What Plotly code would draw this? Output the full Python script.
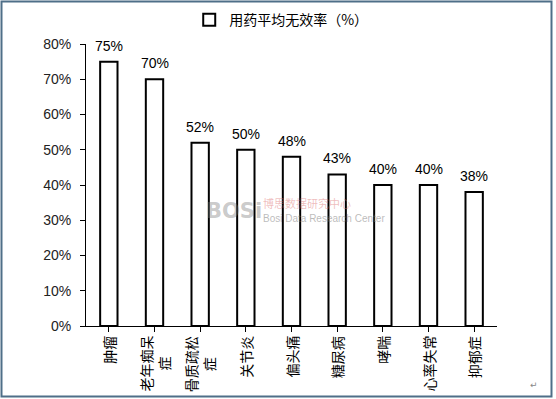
import plotly.graph_objects as go

categories = ["肿瘤", "老年痴呆<br>症", "骨质疏松<br>症", "关节炎", "偏头痛", "糖尿病", "哮喘", "心率失常", "抑郁症"]
values = [75, 70, 52, 50, 48, 43, 40, 40, 38]
series_name = "用药平均无效率（%）"
y_ticks = [0, 0.1, 0.2, 0.3, 0.4, 0.5, 0.6, 0.7, 0.8]

CJK = "Noto Sans CJK SC"
ARIAL = "Liberation Sans, Arial"

xs = list(range(len(categories)))
ys = [v / 100 for v in values]

fig = go.Figure()
fig.add_trace(go.Bar(
    x=xs, y=ys,
    name=series_name,
    marker=dict(color="white", line=dict(color="black", width=2)),
    cliponaxis=False,
    showlegend=True,
))

annotations = []
# value labels above bars
for x, y, v in zip(xs, ys, values):
    annotations.append(dict(
        x=x, y=y, xref="x", yref="y", yanchor="bottom", xanchor="center",
        yshift=6, text=f"{v}%", showarrow=False,
        font=dict(family=ARIAL, size=14, color="black"),
    ))
# category labels
for x, c in zip(xs, categories):
    annotations.append(dict(
        x=x, xref="x", y=0, yref="paper", yanchor="top", xanchor="center",
        yshift=-8, text=c, textangle=-90, align="center", showarrow=False,
        font=dict(family=CJK, size=14, color="black"),
    ))

# watermark
annotations += [
    dict(x=0.36, y=0.408, xref="paper", yref="paper", text="<b>BOSi</b>", showarrow=False,
         font=dict(family="DejaVu Sans", size=21, color="rgba(120,120,120,0.4)")),
    dict(x=0.428, y=0.404, xref="paper", yref="paper", xanchor="left", yanchor="bottom",
         text="博思数据研究中心", showarrow=False, borderpad=0,
         font=dict(family=CJK, size=11, color="rgba(220,110,110,0.45)")),
    dict(x=0.428, y=0.404, xref="paper", yref="paper", xanchor="left", yanchor="top",
         text="Bosi Data Research Center", showarrow=False, borderpad=0,
         font=dict(family=ARIAL, size=10, color="rgba(120,120,120,0.5)")),
    dict(x=1.105, y=-0.235, xref="paper", yref="paper", text="↵", showarrow=False,
         font=dict(family="DejaVu Sans", size=9, color="#888")),
]

fig.update_layout(
    width=556, height=399,
    margin=dict(l=86, r=59, t=44, b=73, autoexpand=False),
    paper_bgcolor="white", plot_bgcolor="white",
    bargap=0.62,
    showlegend=True,
    legend=dict(orientation="h", x=0.475, xanchor="center", y=1.085, yanchor="middle",
                font=dict(family=CJK, size=14, color="black"), bgcolor="rgba(0,0,0,0)"),
    xaxis=dict(
        range=[-0.5, len(categories) - 0.5],
        tickmode="array", tickvals=xs,
        showticklabels=False, showgrid=False, zeroline=False,
        showline=True, linecolor="black", linewidth=1,
        ticks="outside", ticklen=5, tickcolor="black", tickson="boundaries",
    ),
    yaxis=dict(
        range=[0, 0.8], tickvals=y_ticks, tickformat=".0%",
        showgrid=False, zeroline=False,
        showline=True, linecolor="black", linewidth=1,
        ticks="outside", ticklen=5, tickcolor="black",
        ticklabelstandoff=6,
        tickfont=dict(family=ARIAL, size=14, color="#222"),
    ),
    annotations=annotations,
    shapes=[dict(type="rect", xref="paper", yref="paper",
                 x0=-0.2056, x1=1.1326, y0=-0.25, y1=1.1507,
                 line=dict(color="#4f6f88", width=2), layer="below")],
)

fig.write_html("out.html", config={"displayModeBar": False},
               post_script="document.body.style.margin='0';document.body.style.overflow='hidden';")
